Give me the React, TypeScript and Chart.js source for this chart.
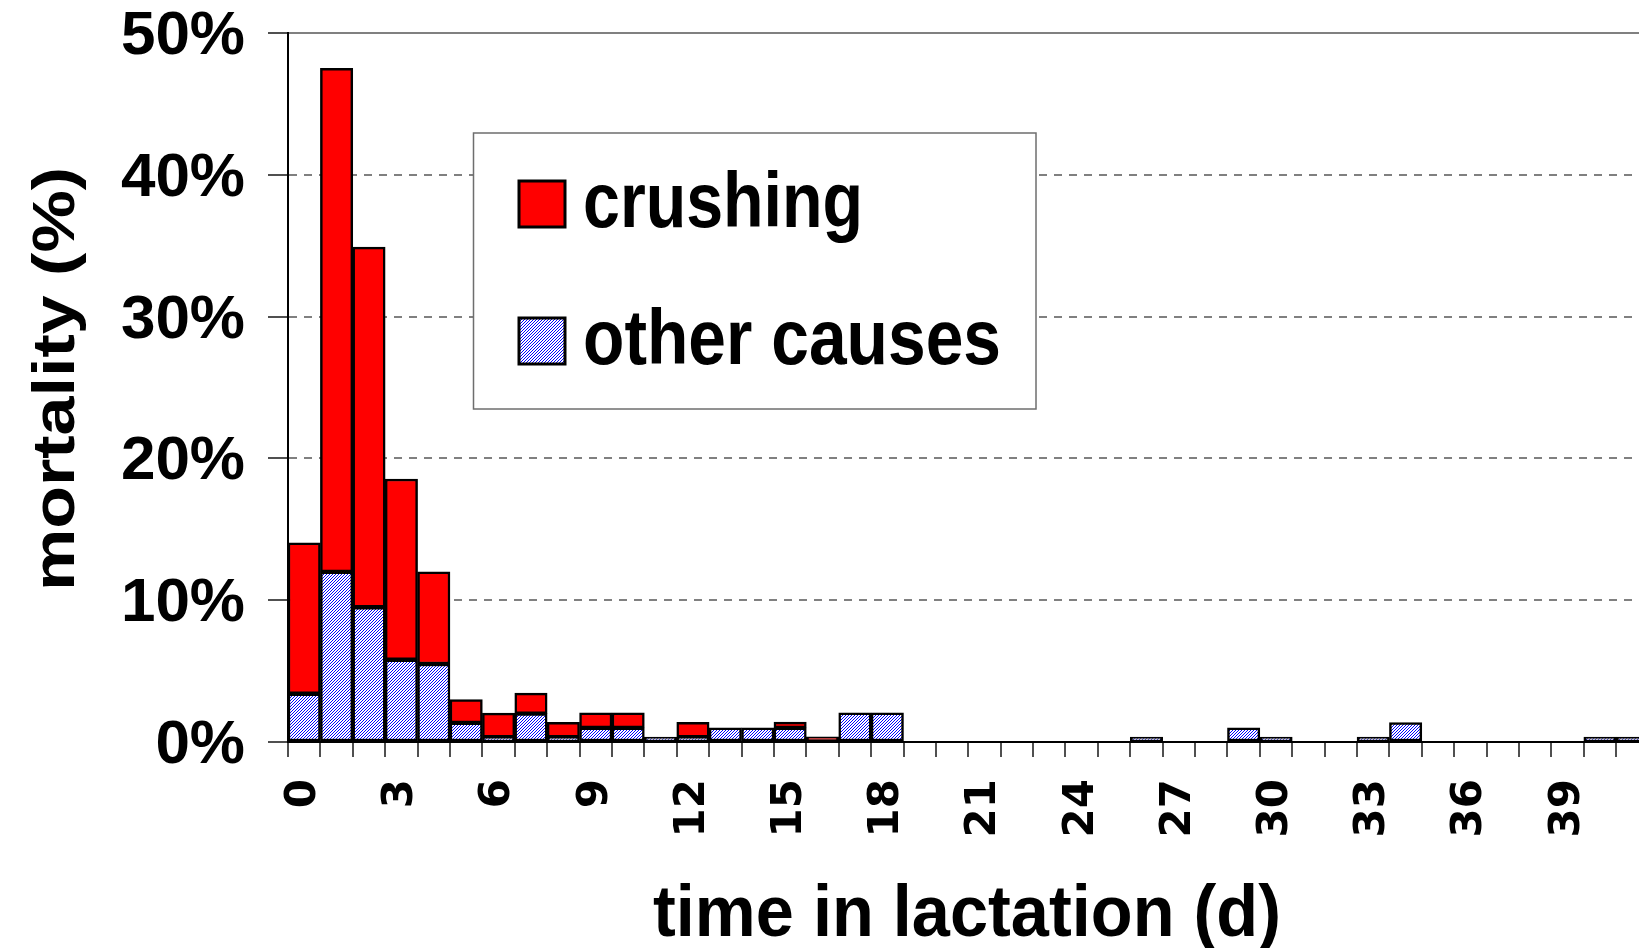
import React, { useEffect, useRef } from 'react';
import { Chart, registerables } from 'chart.js';

Chart.register(...registerables);

// ---- data ----
const days = [
  '0', '1', '2', '3', '4', '5', '6', '7', '8', '9', '10', '11', '12', '13', '14',
  '15', '16', '17', '18', '19', '20', '21', '22', '23', '24', '25', '26', '27', '28',
  '29', '30', '31', '32', '33', '34', '35', '36', '37', '38', '39', '40', '41', '42',
];

// mortality (%) due to other causes (bottom, hatched blue)
const otherCauses = [
  3.4, 12.0, 9.5, 5.8, 5.5, 1.35, 0.34, 2.0, 0.34, 1.0, 1.0, 0.34, 0.34, 1.0, 1.0,
  1.0, 0, 2.05, 2.05, 0, 0, 0, 0, 0, 0, 0, 0.34, 0, 0,
  1.0, 0.34, 0, 0, 0.34, 1.37, 0, 0, 0, 0, 0, 0.34, 0.34, 0,
];

// mortality (%) due to crushing (top, red)
const crushing = [
  10.65, 35.5, 25.4, 12.75, 6.5, 1.65, 1.7, 1.45, 1.05, 1.05, 1.05, 0, 1.05, 0, 0,
  0.4, 0.37, 0, 0, 0, 0, 0, 0, 0, 0, 0, 0, 0, 0,
  0, 0, 0, 0, 0, 0, 0, 0, 0, 0, 0, 0, 0, 0,
];

const seriesNames = ['crushing', 'other causes'];
const xTitle = 'time in lactation (d)';
const yTitle = 'mortality (%)';
const yMax = 50;
const yStep = 10;
const labelEvery = 3;

// ---- helpers ----
function makeHatch(): CanvasPattern | string {
  const c = document.createElement('canvas');
  c.width = 3;
  c.height = 3;
  const g = c.getContext('2d');
  if (!g) return '#9999ff';
  g.fillStyle = '#ffffff';
  g.fillRect(0, 0, 3, 3);
  g.fillStyle = '#0000ff';
  for (let x = 0; x < 3; x++) {
    for (let y = 0; y < 3; y++) {
      if ((x + y) % 3 === 0) g.fillRect(x, y, 1, 1);
    }
  }
  const p = g.createPattern(c, 'repeat');
  return p || '#9999ff';
}

function fitText(
  ctx: CanvasRenderingContext2D,
  text: string,
  x: number,
  y: number,
  width: number,
  font: string,
  align: CanvasTextAlign,
) {
  ctx.save();
  ctx.font = font;
  const w = ctx.measureText(text).width || 1;
  ctx.translate(x, y);
  ctx.scale(width / w, 1);
  ctx.textAlign = align;
  ctx.textBaseline = 'alphabetic';
  ctx.fillStyle = '#000000';
  ctx.fillText(text, 0, 0);
  ctx.restore();
}

const BOLD = (px: number) => `bold ${px}px "Liberation Sans", Arial, sans-serif`;

export default function App() {
  const ref = useRef<HTMLCanvasElement | null>(null);

  useEffect(() => {
    const canvas = ref.current;
    if (!canvas) return;
    const hatch = makeHatch();

    const overlay = {
      id: 'overlay',
      afterDatasetsDraw(chart: any) {
        const ctx: CanvasRenderingContext2D = chart.ctx;
        // legend box
        ctx.save();
        ctx.fillStyle = '#ffffff';
        ctx.fillRect(473.5, 133, 562.5, 276);
        ctx.strokeStyle = '#6e6e6e';
        ctx.lineWidth = 1.5;
        ctx.strokeRect(473.5, 133, 562.5, 276);
        // swatches
        const sw = [
          { y: 181, fill: '#ff0000' as any },
          { y: 318, fill: hatch as any },
        ];
        sw.forEach((s) => {
          ctx.fillStyle = s.fill;
          ctx.fillRect(519, s.y, 46, 46);
          ctx.strokeStyle = '#000000';
          ctx.lineWidth = 3;
          ctx.strokeRect(519, s.y, 46, 46);
        });
        ctx.restore();
        fitText(ctx, seriesNames[0], 583, 227, 280, BOLD(78), 'left');
        fitText(ctx, seriesNames[1], 583, 364, 418, BOLD(78), 'left');
      },
      afterDraw(chart: any) {
        const ctx: CanvasRenderingContext2D = chart.ctx;
        // x title
        fitText(ctx, xTitle, 967, 936, 628, BOLD(72), 'center');
        // y title (rotated)
        ctx.save();
        ctx.translate(74, 379);
        ctx.rotate(-Math.PI / 2);
        fitText(ctx, yTitle, 0, 0, 424, BOLD(60), 'center');
        ctx.restore();
      },
    };

    const chart = new Chart(canvas, {
      type: 'bar',
      data: {
        labels: days,
        datasets: [
          {
            label: seriesNames[1],
            data: otherCauses,
            backgroundColor: hatch as any,
            borderColor: '#000000',
            borderWidth: 2.5,
            borderSkipped: false,
            categoryPercentage: 1,
            barPercentage: 1,
          },
          {
            label: seriesNames[0],
            data: crushing,
            backgroundColor: '#ff0000',
            borderColor: '#000000',
            borderWidth: 2.5,
            borderSkipped: false,
            categoryPercentage: 1,
            barPercentage: 1,
          },
        ],
      },
      plugins: [overlay],
      options: {
        animation: false,
        responsive: false,
        devicePixelRatio: 1,
        layout: { padding: { top: 33, left: 0, right: 0, bottom: 0 } },
        plugins: {
          legend: { display: false },
          tooltip: { enabled: false },
          title: { display: false },
        },
        scales: {
          x: {
            stacked: true,
            offset: true,
            grid: {
              display: true,
              offset: true,
              drawOnChartArea: false,
              drawTicks: true,
              tickLength: 15,
              color: '#505050',
              lineWidth: 2,
            },
            border: { display: true, color: '#000000', width: 2 },
            ticks: {
              autoSkip: false,
              maxRotation: 90,
              minRotation: 90,
              padding: 22,
              color: '#000000',
              font: { family: '"DejaVu Sans", sans-serif', size: 42, weight: 'bold' },
              callback: (_v: any, i: number) => (i % labelEvery === 0 ? days[i] : ''),
            },
            afterFit: (s: any) => {
              s.height = 206;
              s.paddingLeft = 0;
              s.paddingRight = 0;
            },
          },
          y: {
            stacked: true,
            min: 0,
            max: yMax,
            grid: {
              display: true,
              drawOnChartArea: true,
              drawTicks: true,
              tickLength: 20,
              color: '#808080',
              lineWidth: 2,
              tickColor: '#505050',
            },
            border: {
              display: true,
              color: '#000000',
              width: 2,
              dash: (c: any) => (c.tick && c.tick.value === yMax ? [] : [8, 7]),
            },
            ticks: {
              stepSize: yStep,
              padding: 23,
              labelOffset: 4,
              color: '#000000',
              font: { family: '"Liberation Sans", Arial, sans-serif', size: 62, weight: 'bold', lineHeight: 1 },
              callback: (v: any) => `${v}%`,
            },
            afterFit: (s: any) => {
              s.width = 288;
              s.paddingTop = 0;
              s.paddingBottom = 0;
            },
          },
        },
      } as any,
    });

    return () => chart.destroy();
  }, []);

  return (
    <div
      style={{
        position: 'fixed',
        left: 0,
        top: 0,
        width: '100vw',
        height: '100vh',
        overflow: 'hidden',
        background: '#ffffff',
      }}
    >
      <canvas ref={ref} width={1681} height={948} style={{ display: 'block' }} />
    </div>
  );
}
